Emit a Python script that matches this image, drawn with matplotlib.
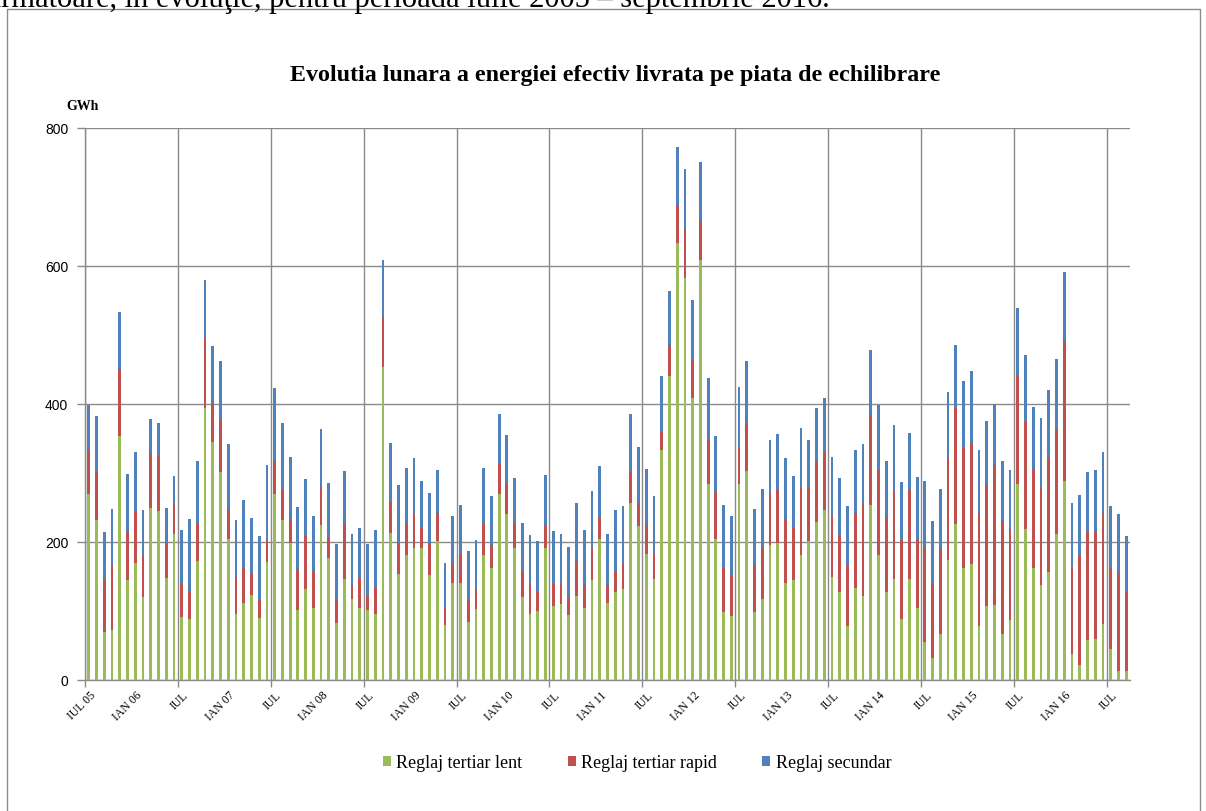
import matplotlib
matplotlib.use("Agg")
import matplotlib.pyplot as plt
from matplotlib.patches import Patch, Rectangle
import numpy as np

# ---- data (GWh), monthly Jul 2005 .. Sep 2016 ----
lent = [270,232,70,72,354,145,170,121,249,245,148,211,
        92,88,172,394,345,301,204,95,112,123,90,171,
        270,232,198,101,132,105,224,177,83,146,118,105,
        101,96,454,213,154,181,192,192,152,201,79,141,
        141,84,103,181,163,270,241,192,120,96,100,191,
        107,110,94,122,104,145,204,111,127,132,256,223,
        183,146,334,441,634,582,408,608,284,205,99,93,
        284,303,98,118,196,198,141,145,181,201,229,247,
        149,127,78,133,122,253,181,127,146,88,147,104,
        55,32,66,174,226,162,168,78,107,108,67,87,
        284,219,163,138,157,212,288,37,22,58,59,81,
        45,13,13]
rapid = [64,70,76,95,97,71,75,60,80,80,51,45,
         48,41,54,101,57,76,44,54,52,31,27,34,
         48,44,35,60,76,53,55,29,34,80,19,43,
         21,37,72,45,44,47,48,30,46,41,25,27,
         42,34,29,45,33,44,43,36,37,45,28,34,
         32,29,25,50,34,46,31,27,31,38,45,34,
         41,36,26,44,54,72,56,57,65,67,64,59,
         53,70,69,74,73,78,92,76,99,79,88,84,
         88,83,87,109,135,131,124,109,128,115,128,101,
         138,109,124,148,168,174,175,164,176,203,163,132,
         158,155,143,142,165,152,203,125,157,158,157,161,
         117,142,114]
secundar = [64,80,68,81,83,83,86,65,49,47,51,40,
            78,104,92,84,82,86,94,83,97,81,92,106,
            105,96,90,89,84,79,85,80,80,77,75,73,
            75,84,83,86,84,79,82,67,73,62,66,70,
            70,69,71,81,71,71,71,65,70,69,74,72,
            77,72,74,85,80,83,75,74,89,82,85,80,
            82,84,80,79,84,86,87,85,88,81,90,85,
            88,90,81,85,79,80,89,75,85,68,77,78,
            86,83,87,92,85,94,93,82,96,84,83,89,
            96,90,87,95,92,97,105,92,92,89,88,85,
            97,97,89,99,98,101,101,94,89,85,89,89,
            90,86,82]
tick_labels = ["IUL 05","IAN 06","IUL","IAN 07","IUL","IAN 08","IUL","IAN 09",
               "IUL","IAN 10","IUL","IAN 11","IUL","IAN 12","IUL","IAN 13",
               "IUL","IAN 14","IUL","IAN 15","IUL","IAN 16","IUL"]
series_names = ["Reglaj tertiar lent", "Reglaj tertiar rapid", "Reglaj secundar"]
colors = ["#9BBB59", "#C0504D", "#4F81BD"]

W, H = 1206, 811
fig = plt.figure(figsize=(W/100, H/100), dpi=100)

# outer frame of the chart
fig.patches.append(Rectangle((7/W, -0.05), (1200-7)/W, (H-9)/H + 0.05,
                             transform=fig.transFigure, fill=False,
                             edgecolor="#8c8c8c", linewidth=1.0))

# document text above the chart (cut off at the top edge, as in the source)
fig.text(830/W, 1 - 7/H, "următoare, în evoluţie, pentru perioada iulie 2005 – septembrie 2016.",
         ha="right", va="baseline", fontsize=22, family="Liberation Serif", color="black")

ax = fig.add_axes([85/W, (H-680)/H, (1130-85)/W, (680-128)/H])

n = len(lent)
x = np.arange(n) + 0.5
lent_a = np.array(lent); rapid_a = np.array(rapid); sec_a = np.array(secundar)
bw = 0.36
ax.bar(x, lent_a, width=bw, color=colors[0], linewidth=0, zorder=3)
ax.bar(x, rapid_a, width=bw, bottom=lent_a, color=colors[1], linewidth=0, zorder=3)
ax.bar(x, sec_a, width=bw, bottom=lent_a + rapid_a, color=colors[2], linewidth=0, zorder=3)

ax.set_xlim(0, n)
ax.set_ylim(0, 800)
ax.set_yticks([0, 200, 400, 600, 800])
ax.yaxis.grid(True, color="#8a8a8a", linewidth=1.0, zorder=0)
ax.set_axisbelow(True)

# vertical gridlines / tick marks each July
ax.set_xticks(np.arange(0, n, 12), minor=True)
ax.xaxis.grid(True, which="minor", color="#8a8a8a", linewidth=1.0)
ax.tick_params(axis="x", which="minor", length=5, color="#8a8a8a", width=1)
# labels every 6 months
ax.set_xticks(np.arange(0, n, 6) + 0.6)
ax.set_xticklabels(tick_labels, rotation=45, ha="right", va="top",
                   rotation_mode="anchor", family="Liberation Serif", fontsize=8.5)
ax.tick_params(axis="x", which="major", length=0, pad=7)
ax.tick_params(axis="y", length=6, color="#8a8a8a", width=1, pad=6, labelsize=10)
for lab in ax.get_yticklabels():
    lab.set_family("Liberation Sans")

for s in ["top", "right"]:
    ax.spines[s].set_visible(False)
for s in ["left", "bottom"]:
    ax.spines[s].set_color("#8a8a8a")
    ax.spines[s].set_linewidth(1.0)

fig.text(615/W, 1 - 75/H, "Evolutia lunara a energiei efectiv livrata pe piata de echilibrare",
         ha="center", va="center", fontsize=17.3, fontweight="bold", family="Liberation Serif")
fig.text(83/W, 1 - 106/H, "GWh", ha="center", va="center", fontsize=10,
         fontweight="bold", family="Liberation Serif")

handles = [Patch(facecolor=c, edgecolor="none") for c in colors]
fig.legend(handles, series_names, loc="center", bbox_to_anchor=(637/W, 1 - 763/H),
           ncol=3, frameon=False, prop={"family": "Liberation Serif", "size": 13},
           handlelength=0.45, handleheight=0.45, handletextpad=0.3, columnspacing=2.5)

fig.savefig("out.png", dpi=100)
